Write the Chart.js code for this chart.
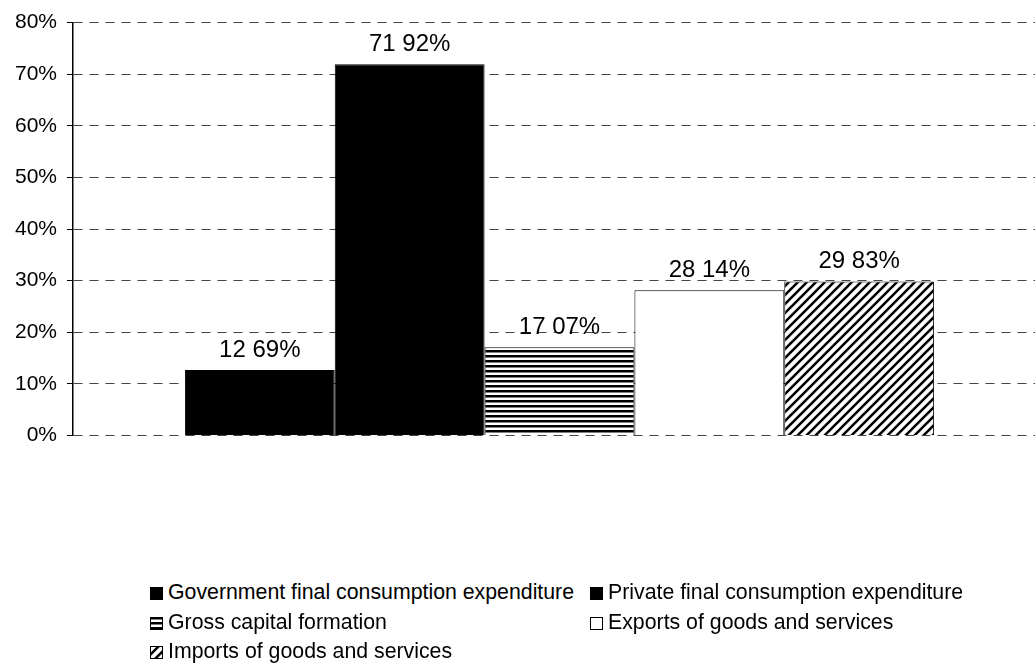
<!DOCTYPE html>
<html>
<head>
<meta charset="utf-8">
<script src="https://cdn.jsdelivr.net/npm/chart.js@4"></script>
<style>
  body { margin: 0; background: #fff; width: 1035px; height: 669px; overflow: hidden; font-family: "Liberation Sans", Arial, sans-serif; }
  #wrap { position: absolute; left: 0; top: 0; width: 1046px; height: 458px; }
  #legend { position: absolute; left: 150px; top: 578px; display: grid; grid-template-columns: 440px auto; font-size: 21.3px; line-height: 29.5px; color: #000; }
  #legend span { white-space: nowrap; }
  #legend canvas { vertical-align: -1px; margin-right: 5px; }
</style>
</head>
<body>
<div id="wrap"><canvas id="chart"></canvas></div>
<div id="legend"></div>
<script>
const categories = [""];
const seriesNames = [
  "Government final consumption expenditure",
  "Private final consumption expenditure",
  "Gross capital formation",
  "Exports of goods and services",
  "Imports of goods and services"
];
const seriesValues = [12.69, 71.92, 17.07, 28.14, 29.83];
const yTicks = [0, 10, 20, 30, 40, 50, 60, 70, 80];

function stripePattern(ctx) {
  const c = document.createElement("canvas");
  c.width = 8; c.height = 5;
  const x = c.getContext("2d");
  x.fillStyle = "#fff"; x.fillRect(0, 0, 8, 5);
  x.fillStyle = "#000"; x.fillRect(0, 0, 8, 2.5);
  return ctx.createPattern(c, "repeat");
}

function hatchPattern(ctx) {
  const c = document.createElement("canvas");
  c.width = 9; c.height = 9;
  const x = c.getContext("2d");
  x.fillStyle = "#fff"; x.fillRect(0, 0, 9, 9);
  x.strokeStyle = "#000"; x.lineWidth = 2.6;
  x.beginPath();
  x.moveTo(-4.5, 4.5); x.lineTo(4.5, -4.5);
  x.moveTo(0, 9); x.lineTo(9, 0);
  x.moveTo(4.5, 13.5); x.lineTo(13.5, 4.5);
  x.stroke();
  return ctx.createPattern(c, "repeat");
}

const ctx = document.getElementById("chart").getContext("2d");
const fills = ["#000", "#000", stripePattern(ctx), "#fff", hatchPattern(ctx)];

const barLabels = {
  id: "barLabels",
  afterDatasetsDraw(chart) {
    const c = chart.ctx;
    c.save();
    c.font = "24px 'Liberation Sans', Arial, sans-serif";
    c.fillStyle = "#000";
    c.textAlign = "center";
    c.textBaseline = "bottom";
    chart.data.datasets.forEach((ds, i) => {
      const bar = chart.getDatasetMeta(i).data[0];
      const txt = ds.data[0].toFixed(2).replace(".", " ") + "%";
      c.fillText(txt, bar.x, bar.y - 8);
    });
    c.restore();
  }
};

const chart = new Chart(ctx, {
  type: "bar",
  data: {
    labels: categories,
    datasets: seriesNames.map((name, i) => ({
      label: name,
      data: [seriesValues[i]],
      backgroundColor: fills[i],
      borderColor: "#000",
      borderWidth: 1,
      categoryPercentage: 0.77,
      barPercentage: 1
    }))
  },
  options: {
    responsive: true,
    maintainAspectRatio: false,
    animation: false,
    layout: { padding: { top: 16, right: 0, left: 0, bottom: 0 } },
    plugins: { legend: { display: false }, tooltip: { enabled: false } },
    scales: {
      x: { display: false },
      y: {
        min: 0,
        max: 80,
        afterBuildTicks: (axis) => { axis.ticks = yTicks.map(v => ({ value: v })); },
        afterFit: (axis) => { axis.width = 73; },
        ticks: {
          color: "#000",
          padding: 10,
          font: { size: 21, family: "'Liberation Sans', Arial, sans-serif" },
          callback: (v) => v + "%"
        },
        grid: { color: "#444", lineWidth: 1, tickLength: 6, tickColor: "#000" },
        border: { display: true, color: "#000", width: 1.5, dash: [9, 7] }
      }
    }
  },
  plugins: [barLabels]
});

// legend built from the chart's datasets
const legend = document.getElementById("legend");
chart.data.datasets.forEach((ds) => {
  const item = document.createElement("span");
  const sw = document.createElement("canvas");
  sw.width = 13; sw.height = 13;
  const sx = sw.getContext("2d");
  sx.fillStyle = ds.backgroundColor;
  sx.fillRect(0, 0, 13, 13);
  sx.strokeStyle = "#000"; sx.lineWidth = 1;
  sx.strokeRect(0.5, 0.5, 12, 12);
  item.appendChild(sw);
  item.appendChild(document.createTextNode(ds.label));
  legend.appendChild(item);
});
</script>
</body>
</html>
